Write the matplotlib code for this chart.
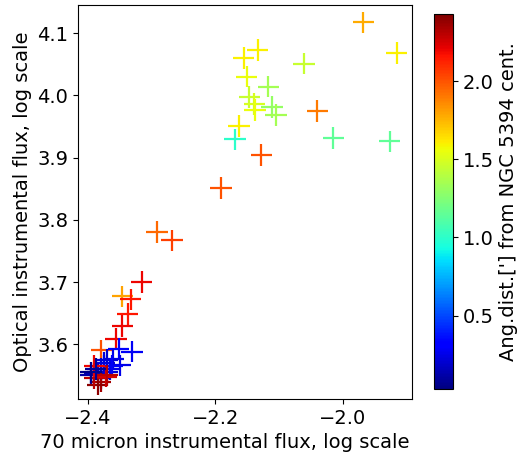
import matplotlib
matplotlib.use('Agg')
import matplotlib.pyplot as plt

# 70 micron flux (log), optical flux (log), angular distance [arcmin]
f70 = [-1.968, -1.916, -2.134, -2.156, -2.061, -2.151, -2.117, -2.147, -2.139,
       -2.138, -2.111, -2.105, -2.040, -2.163, -2.169, -2.015, -1.927, -2.128,
       -2.191, -2.292, -2.268, -2.316, -2.346, -2.333, -2.338, -2.346, -2.356,
       -2.379, -2.352, -2.331, -2.360, -2.350, -2.370, -2.375, -2.380, -2.385,
       -2.390, -2.395, -2.370, -2.365, -2.380, -2.375, -2.362, -2.380, -2.385,
       -2.390, -2.372, -2.390, -2.370, -2.395, -2.388]
fopt = [4.117, 4.068, 4.073, 4.060, 4.051, 4.030, 4.014, 3.997, 3.986,
        3.976, 3.981, 3.968, 3.975, 3.951, 3.929, 3.931, 3.926, 3.904,
        3.851, 3.780, 3.767, 3.700, 3.677, 3.672, 3.649, 3.629, 3.609,
        3.590, 3.592, 3.588, 3.577, 3.566, 3.575, 3.565, 3.560, 3.555,
        3.553, 3.550, 3.555, 3.560, 3.545, 3.570, 3.565, 3.540, 3.535,
        3.545, 3.548, 3.565, 3.550, 3.555, 3.560]
dist = [1.78, 1.60, 1.60, 1.60, 1.45, 1.55, 1.35, 1.45, 1.50,
        1.55, 1.30, 1.35, 1.90, 1.60, 1.00, 1.15, 1.15, 2.00,
        2.00, 1.95, 2.05, 2.20, 1.80, 2.15, 2.15, 2.20, 2.20,
        2.00, 0.30, 0.28, 0.25, 0.25, 0.20, 0.22, 0.20, 0.18,
        0.15, 0.12, 0.20, 0.25, 0.18, 0.22, 0.28, 2.35, 2.40,
        2.30, 2.25, 2.20, 2.30, 0.05, 0.08]

plt.rcParams['font.size'] = 14

fig = plt.figure(figsize=(5.22, 4.55), dpi=100)
ax = fig.add_axes([0.149, 0.123, 0.640, 0.866])
sc = ax.scatter(f70, fopt, c=dist, cmap='jet', marker='+', s=240,
                linewidths=1.6, vmin=0.03, vmax=2.43)
ax.set_xlim(-2.416, -1.892)
ax.set_ylim(3.512, 4.145)
ax.set_xticks([-2.4, -2.2, -2.0])
ax.set_yticks([3.6, 3.7, 3.8, 3.9, 4.0, 4.1])
ax.set_xlabel('70 micron instrumental flux, log scale')
ax.xaxis.set_label_coords(0.44, -0.085)
ax.set_ylabel('Optical instrumental flux, log scale')

cax = fig.add_axes([0.831, 0.145, 0.0364, 0.824])
cb = fig.colorbar(sc, cax=cax)
cb.set_ticks([0.5, 1.0, 1.5, 2.0])
cb.set_label("Ang.dist.['] from NGC 5394 cent.")

fig.savefig('out.png', dpi=100)
